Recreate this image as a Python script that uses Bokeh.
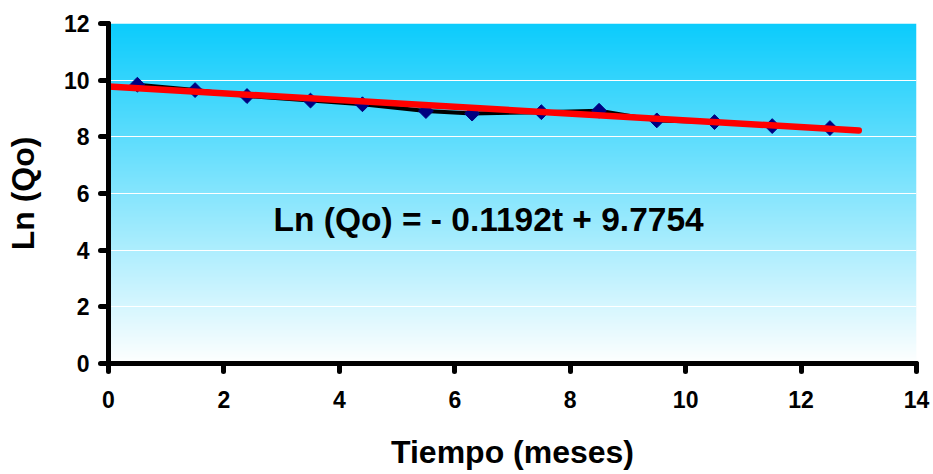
import numpy as np
from bokeh.plotting import figure
from bokeh.models import Range1d, FixedTicker, Label
from bokeh.embed import file_html
from bokeh.resources import INLINE

# ---- data ----
tiempo = [0.5, 1.5, 2.4, 3.5, 4.4, 5.5, 6.3, 7.5, 8.5, 9.5, 10.5, 11.5, 12.5]
ln_qo = [9.84, 9.65, 9.44, 9.28, 9.15, 8.91, 8.82, 8.87, 8.92, 8.58, 8.52, 8.38, 8.31]

slope = -0.1192
intercept = 9.7754
trend_t = [0, 13]
trend_y = [slope * t + intercept for t in trend_t]

x_ticks = [0, 2, 4, 6, 8, 10, 12, 14]
y_ticks = [0, 2, 4, 6, 8, 10, 12]
x_max = 14
y_max = 12

equation = "Ln (Qo) = - 0.1192t + 9.7754"
x_title = "Tiempo (meses)"
y_title = "Ln (Qo)"

FONT = "Liberation Sans"

p = figure(width=933, height=474, frame_width=808, frame_height=340,
           x_range=Range1d(0, x_max), y_range=Range1d(0, y_max),
           output_backend="svg", toolbar_location=None,
           min_border_left=108, min_border_right=17,
           min_border_top=23, min_border_bottom=111)
p.outline_line_color = None
p.background_fill_color = "white"
p.border_fill_color = "white"

# background gradient (cyan at top -> white at bottom)
n = 340
top = np.array([12, 204, 252], dtype=float)
bot = np.array([255, 255, 255], dtype=float)
frac = np.linspace(0, 1, n)[:, None]  # row 0 = bottom
cols = (bot * (1 - frac) + top * frac).astype(np.uint32)
img = np.empty((n, 1), dtype=np.uint32)
view = img.view(dtype=np.uint8).reshape((n, 1, 4))
view[:, :, 0] = cols[:, 0:1]
view[:, :, 1] = cols[:, 1:2]
view[:, :, 2] = cols[:, 2:3]
view[:, :, 3] = 255
p.image_rgba(image=[img], x=0, y=0, dw=x_max, dh=y_max, level="image")

# grid
p.xgrid.visible = False
p.ygrid.ticker = FixedTicker(ticks=y_ticks)
p.ygrid.grid_line_color = "white"
p.ygrid.grid_line_width = 1.2
p.ygrid.level = "underlay"

# data
p.line(tiempo, ln_qo, line_color="black", line_width=4)
p.scatter(tiempo, ln_qo, marker="square", size=10.5, angle=np.pi / 4,
          fill_color="#000080", line_color="#000080")
p.line(trend_t, trend_y, line_color="#FF0000", line_width=6.5, line_cap="round")

p.add_layout(Label(x=2.86, y=5.08, text=equation, text_font=FONT,
                   text_font_size="33.5px", text_font_style="bold",
                   text_color="black", text_baseline="alphabetic"))

# axes
for ax in (p.xaxis[0], p.yaxis[0]):
    ax.axis_line_width = 5
    ax.axis_line_color = "black"
    ax.axis_line_cap = "round"
    ax.major_tick_line_width = 5
    ax.major_tick_line_color = "black"
    ax.major_tick_line_cap = "round"
    ax.major_tick_in = 0
    ax.major_tick_out = 8
    ax.minor_tick_line_color = None
    ax.major_label_text_font = FONT
    ax.major_label_text_font_style = "bold"
    ax.major_label_text_font_size = "23px"
    ax.major_label_text_color = "black"
    ax.axis_label_text_font = FONT
    ax.axis_label_text_font_style = "bold"
    ax.axis_label_text_font_size = "32px"
    ax.axis_label_text_color = "black"

p.xaxis.ticker = FixedTicker(ticks=x_ticks)
p.yaxis.ticker = FixedTicker(ticks=y_ticks)
p.xaxis.axis_label = x_title
p.yaxis.axis_label = y_title
p.xaxis.major_label_standoff = 19
p.yaxis.major_label_standoff = 11
p.xaxis.axis_label_standoff = 23
p.yaxis.axis_label_standoff = 20

open("out.html", "w").write(file_html(p, INLINE))
